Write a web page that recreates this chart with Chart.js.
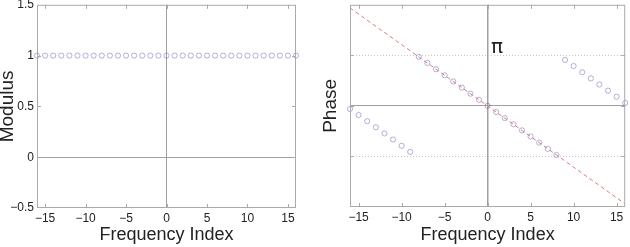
<!DOCTYPE html>
<html>
<head>
<meta charset="utf-8">
<script src="https://cdn.jsdelivr.net/npm/chart.js@4"></script>
<style>
  html, body { margin: 0; padding: 0; background: #fff; }
  #wrap { position: relative; width: 630px; height: 247px; }
  canvas { position: absolute; top: 0; }
</style>
</head>
<body>
<div id="wrap">
  <canvas id="modChart" width="315" height="247" style="left:0"></canvas>
  <canvas id="phaseChart" width="315" height="247" style="left:315px"></canvas>
</div>
<script>
const freqIndex = [-16, -15, -14, -13, -12, -11, -10, -9, -8, -7, -6, -5, -4, -3, -2, -1,
  0, 1, 2, 3, 4, 5, 6, 7, 8, 9, 10, 11, 12, 13, 14, 15, 16];
const modulus = [1, 1, 1, 1, 1, 1, 1, 1, 1, 1, 1, 1, 1, 1, 1, 1,
  1, 1, 1, 1, 1, 1, 1, 1, 1, 1, 1, 1, 1, 1, 1, 1, 1];
const phase = [-0.19, -0.57, -0.95, -1.33, -1.71, -2.09, -2.48, -2.86,
  3.05, 2.67, 2.28, 1.90, 1.52, 1.14, 0.76, 0.38,
  0, -0.38, -0.76, -1.14, -1.52, -1.90, -2.28, -2.67, -3.05,
  2.86, 2.48, 2.09, 1.71, 1.33, 0.95, 0.57, 0.19];
const trendX = [-16, 16];
const trendY = [6.09, -6.09];

const xTicks = [-15, -10, -5, 0, 5, 10, 15];
const modTicks = [-0.5, 0, 0.5, 1, 1.5];
const phaseTicks = [-6.2832, -3.1416, 0, 3.1416, 6.2832];

const textColor = '#222';
const frameColor = '#aaa';
const pointColor = 'rgba(80, 80, 175, 0.55)';

const minus = v => String(v).replace('-', '\u2212');

// matplotlib style box + inward ticks
const framePlugin = {
  id: 'frame',
  afterDraw(chart) {
    const { ctx, chartArea: a, scales } = chart;
    ctx.save();
    ctx.strokeStyle = frameColor;
    ctx.lineWidth = 1;
    ctx.strokeRect(a.left + 0.5, a.top + 0.5, a.right - a.left - 1, a.bottom - a.top - 1);
    ctx.beginPath();
    scales.x.ticks.forEach(t => {
      const px = Math.round(scales.x.getPixelForValue(t.value)) + 0.5;
      ctx.moveTo(px, a.bottom); ctx.lineTo(px, a.bottom - 4);
      ctx.moveTo(px, a.top); ctx.lineTo(px, a.top + 4);
    });
    scales.y.ticks.forEach(t => {
      const py = Math.round(scales.y.getPixelForValue(t.value)) + 0.5;
      if (py <= a.top + 1 || py >= a.bottom - 1) return;
      ctx.moveTo(a.left, py); ctx.lineTo(a.left + 4, py);
      ctx.moveTo(a.right, py); ctx.lineTo(a.right - 4, py);
    });
    ctx.stroke();
    ctx.restore();
  }
};

const piLabel = {
  id: 'piLabel',
  afterDraw(chart) {
    if (chart.canvas.id !== 'phaseChart') return;
    const { ctx, scales } = chart;
    ctx.save();
    ctx.fillStyle = textColor;
    ctx.font = '20px "DejaVu Sans"';
    ctx.textAlign = 'left';
    ctx.textBaseline = 'bottom';
    ctx.fillText('\u03c0', scales.x.getPixelForValue(0.4), scales.y.getPixelForValue(3.1416) + 2);
    ctx.restore();
  }
};

function baseScales(opt) {
  return {
    x: {
      type: 'linear', min: -16, max: 16,
      afterBuildTicks: s => { s.ticks = xTicks.map(v => ({ value: v })); },
      afterFit: s => { s.height = opt.xHeight; s.paddingLeft = 0; s.paddingRight = 0; },
      ticks: { color: textColor, font: { family: 'Liberation Sans', size: 12 }, padding: 3, callback: minus, maxRotation: 0 },
      grid: { drawTicks: false, color: c => c.tick && c.tick.value === 0 ? '#a0a0a0' : 'transparent', lineWidth: opt.zeroWidth },
      border: { display: false },
      title: { display: true, text: 'Frequency Index', color: textColor,
        font: { family: 'Liberation Sans', size: 18, lineHeight: 1 }, padding: { top: 0, bottom: 3 } }
    },
    y: {
      type: 'linear', min: opt.yMin, max: opt.yMax,
      afterBuildTicks: s => { s.ticks = opt.yTicks.map(v => ({ value: v })); },
      afterFit: s => { s.width = opt.yWidth; s.paddingTop = 0; s.paddingBottom = 0; },
      ticks: { display: opt.yLabels, color: textColor, font: { family: 'Liberation Sans', size: 12 }, padding: 3, callback: minus },
      grid: { drawTicks: false, color: opt.yGridColor, lineWidth: 1 },
      border: { display: false, dash: opt.yDash },
      title: { display: true, text: opt.yTitle, color: textColor,
        font: { family: 'Liberation Sans', size: 19, lineHeight: 1 }, padding: { top: opt.yTitlePad, bottom: 0 } }
    }
  };
}

const pointStyle = {
  showLine: false,
  pointRadius: 2.6,
  pointBorderWidth: 0.8,
  pointBorderColor: pointColor,
  pointBackgroundColor: 'transparent',
  clip: false
};

new Chart(document.getElementById('modChart'), {
  type: 'scatter',
  data: {
    datasets: [
      Object.assign({ data: freqIndex.map((x, i) => ({ x: x, y: modulus[i] })) }, pointStyle)
    ]
  },
  options: {
    responsive: false,
    animation: false,
    devicePixelRatio: 1,
    layout: { padding: { top: 4, right: 19, bottom: 0, left: 0 } },
    plugins: { legend: { display: false }, tooltip: { enabled: false } },
    scales: baseScales({
      xHeight: 39, yWidth: 37, yMin: -0.5, yMax: 1.5, yTicks: modTicks, yLabels: true,
      yTitle: 'Modulus', yTitlePad: -1.5, zeroWidth: 1,
      yGridColor: c => c.tick && c.tick.value === 0 ? '#a0a0a0' : 'transparent',
      yDash: []
    })
  },
  plugins: [framePlugin]
});

new Chart(document.getElementById('phaseChart'), {
  type: 'scatter',
  data: {
    datasets: [
      {
        data: trendX.map((x, i) => ({ x: x, y: trendY[i] })),
        showLine: true,
        borderColor: '#e07a7a',
        borderWidth: 1,
        borderDash: [4, 3],
        pointRadius: 0
      },
      Object.assign({ data: freqIndex.map((x, i) => ({ x: x, y: phase[i] })) }, pointStyle)
    ]
  },
  options: {
    responsive: false,
    animation: false,
    devicePixelRatio: 1,
    layout: { padding: { top: 3, right: 2, bottom: 0, left: 0 } },
    plugins: { legend: { display: false }, tooltip: { enabled: false } },
    scales: baseScales({
      xHeight: 40, yWidth: 35, yMin: -6.2832, yMax: 6.2832, yTicks: phaseTicks, yLabels: false,
      yTitle: 'Phase', yTitlePad: 6, zeroWidth: 1.5,
      yGridColor: c => {
        if (!c.tick) return 'transparent';
        const v = Math.abs(c.tick.value);
        if (v === 0) return '#a0a0a0';
        if (v < 4) return '#c8c8c8';
        return 'transparent';
      },
      yDash: c => c.tick && Math.abs(c.tick.value) > 1 ? [1, 2] : []
    })
  },
  plugins: [framePlugin, piLabel]
});
</script>
</body>
</html>
